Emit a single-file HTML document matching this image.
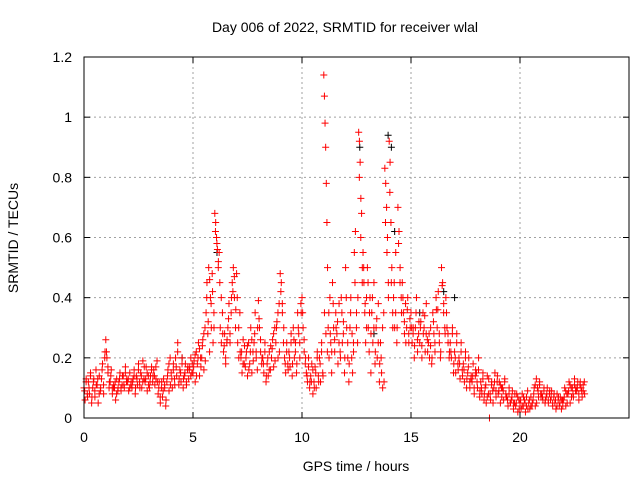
<!DOCTYPE html>
<html><head><meta charset="utf-8"><style>
body{margin:0;background:#fff}
svg{display:block;font-family:"Liberation Sans",sans-serif}
</style></head><body>
<svg id="chart" width="640" height="480">
<text x="345" y="32" font-size="14" text-anchor="middle">Day 006 of 2022, SRMTID for receiver wlal</text>
<text x="356" y="471" font-size="14" text-anchor="middle">GPS time / hours</text>
<text x="18" y="238" font-size="14" text-anchor="middle" transform="rotate(-90 18 238)">SRMTID / TECUs</text>
<g id="grid"></g><g id="marks"></g><g id="axes"></g>
</svg>
<script>
const xTicks=[0,5,10,15,20];
const yTicks=[0,0.2,0.4,0.6,0.8,1,1.2];
const yTickLabels=["0","0.2","0.4","0.6","0.8","1","1.2"];
const times=[0,0.2,0.4,0.6,0.8,1,1.2,1.4,1.6,1.8,2,2.2,2.4,2.6,2.8,3,3.2,3.4,3.6,3.8,4,4.2,4.4,4.6,4.8,5,5.2,5.4,5.6,5.8,6,6.2,6.4,6.6,6.8,7,7.2,7.4,7.6,7.8,8,8.2,8.4,8.6,8.8,9,9.2,9.4,9.6,9.8,10,10.2,10.4,10.6,10.8,11,11.2,11.4,11.6,11.8,12,12.2,12.4,12.6,12.8,13,13.2,13.4,13.6,13.8,14,14.2,14.4,14.6,14.8,15,15.2,15.4,15.6,15.8,16,16.2,16.4,16.6,16.8,17,17.2,17.4,17.6,17.8,18,18.2,18.4,18.6,18.8,19,19.2,19.4,19.6,19.8,20,20.2,20.4,20.6,20.8,21,21.2,21.4,21.6,21.8,22,22.2,22.4,22.6,22.8];
const vals=[[.1,.06,.13,.08],[.12,.08,.15,.05],[.1,.13,.07,.16],[.11,.05,.14,.09],[.13,.18,.08,.2],[.26,.2,.15,.1],[.12,.16,.08,.1],[.1,.06,.13,.09],[.12,.15,.09,.11],[.14,.1,.17,.12],[.12,.09,.15,.11],[.1,.13,.16,.08],[.14,.11,.18,.12],[.15,.1,.19,.13],[.12,.17,.09,.14],[.1,.14,.17,.12],[.16,.11,.13,.19],[.08,.12,.05,.1],[.07,.13,.1,.04],[.12,.16,.09,.2],[.15,.1,.18,.13],[.2,.14,.25,.11],[.16,.12,.2,.1],[.14,.18,.11,.16],[.13,.17,.2,.15],[.15,.19,.12,.22],[.18,.25,.14,.2],[.2,.26,.16,.3],[.35,.45,.28,.5,.22],[.4,.3,.48,.25,.35],[.68,.65,.6,.56,.5],[.55,.3,.25,.35],[.22,.28,.18,.25],[.3,.38,.25,.35],[.45,.5,.4,.3],[.48,.25,.2,.35],[.2,.15,.26,.18],[.17,.22,.14,.25],[.18,.3,.15,.22],[.25,.35,.2,.16],[.39,.3,.22,.18],[.2,.15,.25,.12],[.18,.14,.22,.16],[.2,.26,.17,.3],[.25,.32,.2,.38],[.48,.45,.35,.25],[.2,.15,.25,.18],[.22,.17,.28,.14],[.3,.2,.25,.15],[.35,.28,.2,.38],[.4,.3,.22,.18],[.15,.12,.2,.1],[.14,.18,.08,.12],[.17,.1,.22,.14],[.2,.12,.25,.15],[1.14,1.07,.98,.9,.78,.65,.5],[.3,.2,.4,.25,.15],[.45,.3,.22,.35],[.28,.18,.38,.22],[.4,.25,.32,.15],[.5,.3,.2,.12],[.3,.4,.2,.15,.25],[.55,.62,.35,.25],[.95,.92,.85,.73,.68,.5],[.55,.45,.35,.25,.4],[.5,.3,.22,.4,.15],[.35,.25,.45,.18],[.3,.2,.38,.12],[.25,.15,.1,.35],[.83,.78,.7,.6,.45],[.92,.85,.65,.5,.35],[.4,.3,.55,.25],[.7,.62,.5,.4],[.45,.35,.28,.38],[.3,.4,.25,.33],[.35,.25,.3,.2],[.3,.4,.22,.28],[.25,.32,.2,.35],[.3,.22,.38,.26],[.25,.2,.3,.18],[.35,.28,.22,.4],[.3,.42,.25,.2],[.5,.45,.38,.3],[.4,.3,.25,.2],[.25,.2,.3,.15],[.22,.15,.28,.18],[.2,.13,.25,.16],[.18,.12,.22,.1],[.15,.2,.1,.13],[.12,.18,.08,.14],[.15,.1,.2,.07],[.12,.08,.15,.06],[.1,.05,.14,.08],[0,.06,.12,.09],[.1,.15,.07,.12],[.08,.12,.05,.1],[.1,.06,.13,.08],[.07,.04,.1,.05],[.06,.09,.03,.05],[.04,.08,.02,.06],[.05,.03,.08,.04],[.06,.02,.04,.09],[.05,.03,.07,.04],[.06,.1,.04,.13],[.1,.07,.12,.08],[.08,.06,.1,.05],[.07,.1,.05,.08],[.06,.09,.04,.07],[.05,.03,.08,.06],[.04,.07,.03,.06],[.06,.1,.04,.08],[.08,.12,.05,.1],[.1,.07,.13,.09],[.09,.12,.06,.11],[.1,.07,.09,.12]];
const vals2=[[.09,.12,.07],[.1,.14,.07],[.12,.09,.11],[.13,.08,.1],[.16,.11,.22],[.22,.17,.12],[.14,.1,.11],[.12,.08,.1],[.13,.1,.14],[.11,.15,.13],[.13,.1,.12],[.12,.14,.1],[.13,.16,.1],[.14,.12,.17],[.13,.15,.11],[.12,.16,.14],[.14,.17,.12],[.1,.07,.12],[.09,.11,.06],[.14,.18,.11],[.13,.16,.11],[.17,.22,.13],[.15,.18,.13],[.15,.12,.17],[.16,.14,.18],[.17,.21,.14],[.2,.23,.17],[.24,.28,.19],[.4,.32,.46],[.38,.42,.3],[.62,.58,.52],[.45,.4,.28],[.24,.2,.26],[.33,.28,.4],[.42,.47,.36],[.4,.3,.22],[.22,.18,.24],[.2,.24,.16],[.22,.26,.19],[.28,.22,.3],[.33,.26,.2],[.18,.22,.14],[.2,.16,.24],[.23,.28,.19],[.3,.35,.22],[.42,.38,.3],[.18,.22,.16],[.2,.25,.18],[.26,.22,.18],[.3,.25,.35],[.35,.26,.2],[.14,.17,.12],[.12,.16,.1],[.15,.2,.12],[.18,.22,.14],[.35,.28,.22],[.35,.28,.22],[.38,.26,.3],[.32,.25,.2],[.35,.28,.2],[.4,.25,.18],[.35,.28,.22],[.45,.3,.4],[.8,.6,.45],[.5,.38,.3],[.45,.35,.28],[.4,.3,.22],[.33,.25,.18],[.2,.3,.12],[.65,.55,.4],[.75,.45,.3],[.45,.35,.3],[.58,.45,.35],[.4,.32,.25],[.36,.28,.3],[.3,.28,.24],[.35,.26,.32],[.3,.24,.28],[.34,.28,.22],[.28,.24,.2],[.32,.25,.36],[.36,.28,.22],[.44,.35,.28],[.35,.28,.22],[.22,.28,.18],[.2,.25,.16],[.18,.22,.14],[.16,.2,.13],[.17,.12,.14],[.14,.1,.16],[.12,.16,.09],[.1,.13,.08],[.11,.07,.13],[.08,.11,.05],[.12,.09,.14],[.09,.11,.07],[.09,.12,.07],[.06,.08,.05],[.07,.05,.08],[.05,.07,.03],[.06,.04,.07],[.05,.07,.03],[.06,.04,.05],[.08,.11,.05],[.09,.11,.07],[.07,.09,.06],[.08,.06,.09],[.07,.05,.08],[.06,.04,.07],[.05,.06,.04],[.07,.09,.05],[.09,.11,.07],[.08,.11,.1],[.1,.08,.12],[.09,.11,.08]];
const blackTimes=[12.65,13.95,14.1,14.25,16.5,17.0,13.3,15.4,4.5,6.1];
const blackVals=[.9,.94,.9,.62,.42,.4,.28,.35,.2,.55];
const L=84,R=629,T=57,B=418,XMAX=25,YMAX=1.2;
const sx=v=>L+(R-L)*v/XMAX, sy=v=>B-(B-T)*v/YMAX;
const NS="http://www.w3.org/2000/svg";
function mk(tag,attrs,parent){const e=document.createElementNS(NS,tag);for(const k in attrs)e.setAttribute(k,attrs[k]);parent.appendChild(e);return e;}
const grid=document.getElementById('grid'),axes=document.getElementById('axes'),marks=document.getElementById('marks');
xTicks.forEach(t=>{
  if(t>0){const g=mk('line',{x1:sx(t),x2:sx(t),y1:T,y2:B,stroke:'#a0a0a0','stroke-dasharray':'2,3'},grid);
  
  }
  mk('line',{x1:sx(t),x2:sx(t),y1:B,y2:B-6,stroke:'#000'},axes);
  mk('line',{x1:sx(t),x2:sx(t),y1:T,y2:T+6,stroke:'#000'},axes);
  const lb=mk('text',{x:sx(t),y:B+24,'font-size':14,'text-anchor':'middle'},axes);lb.textContent=t;
  
  
});
yTicks.forEach((t,i)=>{
  if(t>0&&t<YMAX){const g=mk('line',{x1:L,x2:R,y1:sy(t),y2:sy(t),stroke:'#a0a0a0','stroke-dasharray':'2,3'},grid);
  
  }
  mk('line',{x1:L,x2:L+6,y1:sy(t),y2:sy(t),stroke:'#000'},axes);
  mk('line',{x1:R,x2:R-6,y1:sy(t),y2:sy(t),stroke:'#000'},axes);
  const lb=mk('text',{x:L-12,y:sy(t)+5,'font-size':14,'text-anchor':'end'},axes);lb.textContent=yTickLabels[i];
  
  
});
const fr=mk('rect',{x:L,y:T,width:R-L,height:B-T,fill:'none',stroke:'#000'},axes);


function plus(x,y,c){const p=mk('path',{d:`M${x-3.5},${y}h7M${x},${y-3.5}v7`,stroke:c,'stroke-width':1,fill:'none'},marks);return p;}
blackTimes.forEach((t,i)=>{const p=plus(sx(t),sy(blackVals[i]),'#000');
  
  });
times.forEach((t,i)=>{const n=vals[i].length;vals[i].forEach((v,j)=>{
  const p=plus(sx(t+j*0.2/n),sy(v),'#ff0000');
  
  
});
vals2[i].forEach((v,j)=>{
  const p=plus(sx(t+0.03+j*0.2/3),sy(v),'#ff0000');
  
  
});});
</script>
</body></html>
